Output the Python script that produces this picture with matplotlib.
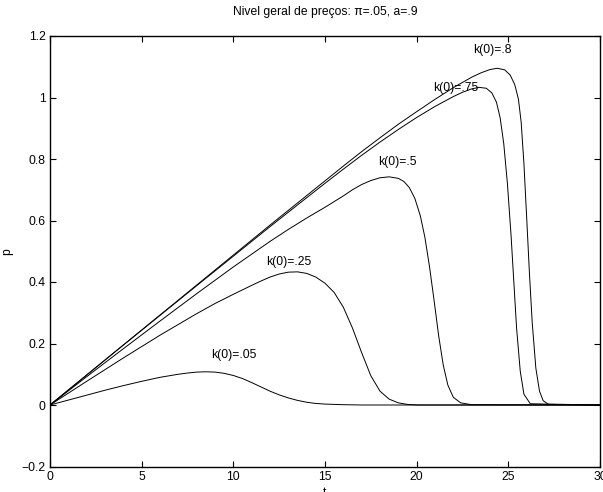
import matplotlib
matplotlib.use('Agg')
import matplotlib.pyplot as plt

plt.rcParams['font.family'] = ['Liberation Sans', 'DejaVu Sans']

# k(0)=.05
t_05 = [0, 1, 2, 3, 4, 5, 6, 7, 7.5, 8, 8.5, 9, 9.5, 10, 10.5, 11, 11.5, 12, 12.5, 13, 13.5, 14, 14.5, 15, 16, 17, 30]
p_05 = [0, 0.016, 0.032, 0.048, 0.063, 0.077, 0.09, 0.1, 0.104, 0.107, 0.108, 0.107, 0.103, 0.096, 0.086, 0.073,
        0.059, 0.045, 0.033, 0.023, 0.015, 0.009, 0.005, 0.003, 0.001, 0, 0]

# k(0)=.25
t_25 = [0, 2, 4, 6, 7, 8, 9, 10, 11, 11.5, 12, 12.5, 13, 13.5, 14, 14.5, 15, 15.5, 16, 16.5, 17, 17.5, 18, 18.5,
        19, 19.5, 20, 30]
p_25 = [0, 0.077, 0.153, 0.227, 0.262, 0.297, 0.33, 0.36, 0.389, 0.403, 0.416, 0.426, 0.432, 0.433, 0.428, 0.416,
        0.396, 0.366, 0.318, 0.25, 0.17, 0.095, 0.045, 0.019, 0.007, 0.002, 0, 0]

# k(0)=.5
t_50 = [0, 2, 4, 6, 8, 10, 12, 13, 14, 15, 16, 16.5, 17, 17.5, 18, 18.5, 19, 19.3, 19.6, 19.9, 20.2, 20.45, 20.7,
        20.95, 21.2, 21.45, 21.7, 22.0, 22.4, 23, 30]
p_50 = [0, 0.092, 0.183, 0.273, 0.362, 0.449, 0.532, 0.571, 0.608, 0.643, 0.68, 0.7, 0.717, 0.73, 0.739, 0.742,
        0.737, 0.727, 0.707, 0.672, 0.615, 0.545, 0.45, 0.34, 0.225, 0.13, 0.065, 0.025, 0.007, 0.001, 0]

# k(0)=.75
t_75 = [0, 4, 8, 12, 14, 15, 16, 17, 18, 19, 20, 21, 22, 22.5, 23, 23.4, 23.8, 24.1, 24.35, 24.55, 24.75, 24.95,
        25.15, 25.3, 25.45, 25.65, 25.85, 26.2, 30]
p_75 = [0, 0.195, 0.388, 0.58, 0.674, 0.721, 0.767, 0.812, 0.855, 0.896, 0.935, 0.971, 1.003, 1.017, 1.028, 1.033,
        1.03, 1.015, 0.985, 0.935, 0.85, 0.72, 0.55, 0.4, 0.25, 0.11, 0.035, 0.004, 0]

# k(0)=.8
t_80 = [0, 4, 8, 12, 14, 15, 16, 17, 18, 19, 20, 21, 22, 23, 23.5, 24, 24.4, 24.8, 25.1, 25.35, 25.55, 25.7,
        25.85, 26.0, 26.15, 26.3, 26.5, 26.7, 26.9, 27.2, 30]
p_80 = [0, 0.195, 0.39, 0.585, 0.681, 0.729, 0.777, 0.824, 0.869, 0.913, 0.954, 0.994, 1.032, 1.066, 1.08, 1.091,
        1.095, 1.09, 1.073, 1.042, 0.995, 0.92, 0.785, 0.61, 0.43, 0.27, 0.12, 0.045, 0.014, 0.002, 0]

labels = ['k(0)=.05', 'k(0)=.25', 'k(0)=.5', 'k(0)=.75', 'k(0)=.8']
label_t = [8.8, 11.8, 17.9, 20.9, 23.1]
label_p = [0.163, 0.464, 0.79, 1.03, 1.153]

x_ticks = [0, 5, 10, 15, 20, 25, 30]
y_ticks = [-0.2, 0, 0.2, 0.4, 0.6, 0.8, 1, 1.2]
y_ticklabels = ['\u22120.2', '0', '0.2', '0.4', '0.6', '0.8', '1', '1.2']

fs = 8.7

fig = plt.figure(figsize=(6.03, 4.92), dpi=100)
ax = fig.add_axes([50 / 603, 25.5 / 492, 550 / 603, 430.5 / 492])

for t, p in [(t_05, p_05), (t_25, p_25), (t_50, p_50), (t_75, p_75), (t_80, p_80)]:
    ax.plot(t, p, color='black', linewidth=0.7)

for lab, tx, py in zip(labels, label_t, label_p):
    ax.text(tx, py, lab, fontsize=fs, ha='left', va='center')

ax.set_xlim(0, 30)
ax.set_ylim(-0.2, 1.2)
ax.set_xticks(x_ticks)
ax.set_xticklabels([str(v) for v in x_ticks])
ax.set_yticks(y_ticks)
ax.set_yticklabels(y_ticklabels)
ax.tick_params(direction='in', top=True, right=True, length=4, width=0.8, labelsize=fs, pad=3)
for s in ax.spines.values():
    s.set_linewidth(1.0)

ax.set_title('Nivel geral de preços: \u03c0=.05, a=.9', fontsize=fs, pad=15)
ax.set_ylabel('p', fontsize=fs, labelpad=6)
ax.set_xlabel('t', fontsize=fs, labelpad=3)

plt.savefig('out.png', dpi=100)
